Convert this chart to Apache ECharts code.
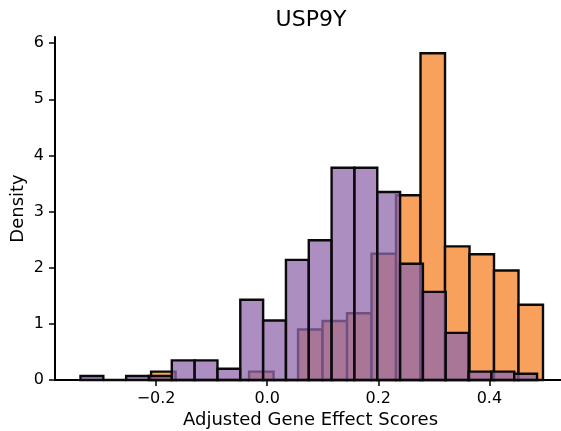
<!DOCTYPE html>
<html>
<head>
<meta charset="utf-8">
<script src="https://cdn.jsdelivr.net/npm/echarts@6/dist/echarts.min.js"></script>
<style>
  html, body { margin: 0; padding: 0; background: #fff; }
  #chart { width: 561px; height: 431px; }
</style>
</head>
<body>
<div id="chart"></div>
<script>
// Histogram of adjusted gene effect scores for USP9Y, two overlaid groups.
const titleText = 'USP9Y';
const xAxisTitle = 'Adjusted Gene Effect Scores';
const yAxisTitle = 'Density';

const xTickValues = [-0.2, 0.0, 0.2, 0.4];
const yTickValues = [0, 1, 2, 3, 4, 5, 6];

// Orange group: bin edges and density per bin
const orangeEdges = [-0.209, -0.1649, -0.1208, -0.0767, -0.0326, 0.0115, 0.0556, 0.0997,
  0.1438, 0.1879, 0.2320, 0.2761, 0.3202, 0.3643, 0.4084, 0.4525, 0.4966];
const orangeDensity = [0.15, 0, 0, 0, 0.15, 0, 0.90, 1.05, 1.19, 2.25, 3.29, 5.82,
  2.38, 2.24, 1.95, 1.34];

// Purple group: bin edges and density per bin
const purpleEdges = [-0.3361, -0.2950, -0.2539, -0.2128, -0.1717, -0.1306, -0.0895, -0.0484,
  -0.0073, 0.0338, 0.0749, 0.1160, 0.1571, 0.1982, 0.2393, 0.2804, 0.3215, 0.3626,
  0.4037, 0.4448, 0.4859];
const purpleDensity = [0.07, 0, 0.07, 0.07, 0.35, 0.35, 0.20, 1.43, 1.06, 2.14, 2.49,
  3.78, 3.78, 3.35, 2.07, 1.57, 0.84, 0.15, 0.15, 0.11];

function toBins(edges, dens) {
  return dens.map((d, i) => [edges[i], edges[i + 1], d]);
}

function barRenderer(fill) {
  return function (params, api) {
    const topLeft = api.coord([api.value(0), api.value(2)]);
    const bottomRight = api.coord([api.value(1), 0]);
    return {
      type: 'rect',
      shape: {
        x: topLeft[0],
        y: topLeft[1],
        width: bottomRight[0] - topLeft[0],
        height: bottomRight[1] - topLeft[1]
      },
      style: { fill: fill, stroke: '#0a0a0a', lineWidth: 2.4 }
    };
  };
}

const FONT = 'DejaVu Sans';
const chart = echarts.init(document.getElementById('chart'), null, { renderer: 'canvas' });

chart.setOption({
  animation: false,
  backgroundColor: '#ffffff',
  title: {
    text: titleText,
    left: 311,
    top: 9,
    padding: 0,
    textAlign: 'center',
    textStyle: { fontFamily: FONT, fontSize: 22, fontWeight: 'normal', color: '#000' }
  },
  grid: { left: 55, right: -5, top: 37, bottom: 51, containLabel: false, outerBoundsMode: 'none' },
  xAxis: {
    type: 'value',
    min: -0.382,
    max: 0.538,
    name: xAxisTitle,
    nameLocation: 'middle',
    nameGap: 31,
    nameMoveOverlap: false,
    nameTextStyle: { fontFamily: FONT, fontSize: 18, color: '#000' },
    axisLine: { show: true, onZero: false, lineStyle: { color: '#000', width: 2 } },
    axisTick: { show: true, length: 6, lineStyle: { color: '#000', width: 1.5 }, customValues: xTickValues },
    axisLabel: {
      fontFamily: FONT, fontSize: 16, color: '#000', margin: 11,
      customValues: xTickValues,
      formatter: v => (v < 0 ? '\u2212' : '') + Math.abs(v).toFixed(1)
    },
    splitLine: { show: false }
  },
  yAxis: {
    type: 'value',
    min: 0,
    max: 6.11,
    name: yAxisTitle,
    nameLocation: 'middle',
    nameGap: 28,
    nameMoveOverlap: false,
    nameRotate: 90,
    nameTextStyle: { fontFamily: FONT, fontSize: 18, color: '#000' },
    axisLine: { show: true, onZero: false, lineStyle: { color: '#000', width: 2 } },
    axisTick: { show: true, length: 6, lineStyle: { color: '#000', width: 1.5 }, customValues: yTickValues },
    axisLabel: {
      fontFamily: FONT, fontSize: 16, color: '#000', margin: 11,
      customValues: yTickValues,
      formatter: v => String(v)
    },
    splitLine: { show: false }
  },
  series: [
    {
      type: 'custom',
      name: 'orange',
      z: 2,
      renderItem: barRenderer('#f8a15c'),
      encode: { x: [0, 1], y: 2 },
      data: toBins(orangeEdges, orangeDensity)
    },
    {
      type: 'custom',
      name: 'purple',
      z: 3,
      renderItem: barRenderer('rgba(144,104,172,0.75)'),
      encode: { x: [0, 1], y: 2 },
      data: toBins(purpleEdges, purpleDensity)
    }
  ]
});
</script>
</body>
</html>
